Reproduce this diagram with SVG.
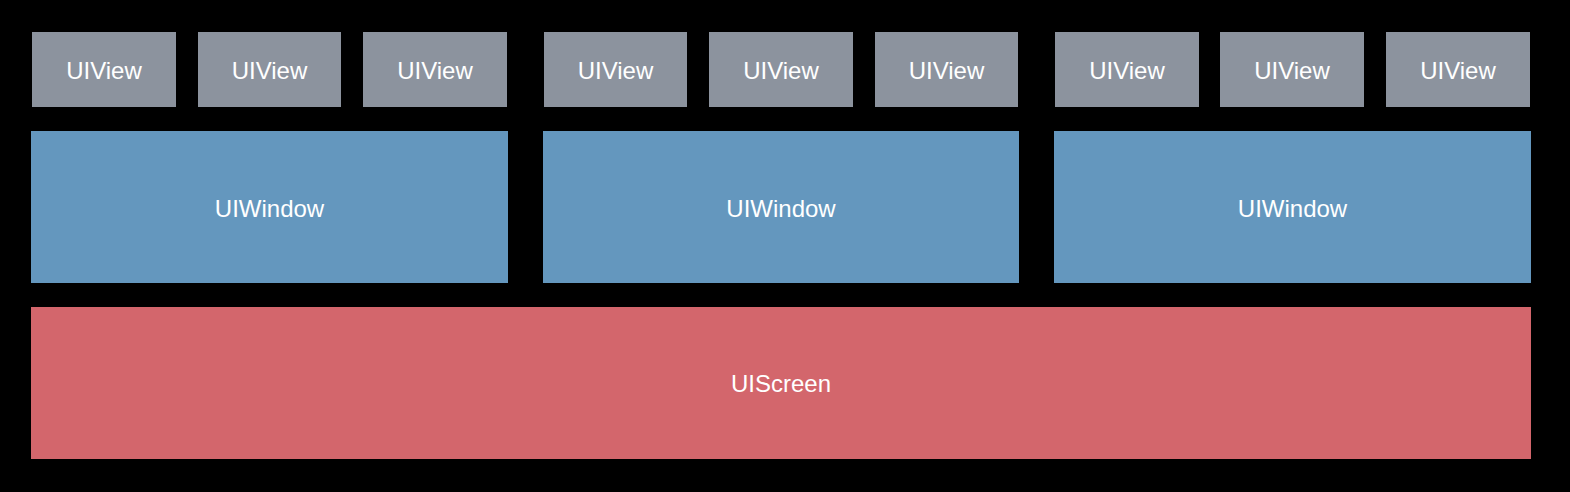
<svg xmlns="http://www.w3.org/2000/svg" width="1570" height="492" viewBox="0 0 1570 492">
<style>
.v{fill:#8c939e}.w{fill:#6497be}.s{fill:#d3666c}
text{font-family:"Helvetica","Liberation Sans",Arial,sans-serif;font-size:24px;fill:#fff;text-anchor:middle;dominant-baseline:central}
</style>
<rect width="1570" height="492" fill="#000"/>
<g id="screen"><rect class="s" x="31" y="307" width="1500" height="152"/><text x="781" y="383">UIScreen</text></g>
<g id="window1"><rect class="w" x="31" y="131" width="477" height="152"/><text x="269.5" y="208">UIWindow</text></g>
<g id="window2"><rect class="w" x="543" y="131" width="476" height="152"/><text x="781" y="208">UIWindow</text></g>
<g id="window3"><rect class="w" x="1054" y="131" width="477" height="152"/><text x="1292.5" y="208">UIWindow</text></g>
<g id="view1"><rect class="v" x="32" y="32" width="144" height="75"/><text x="104" y="70">UIView</text></g>
<g id="view2"><rect class="v" x="198" y="32" width="143" height="75"/><text x="269.5" y="70">UIView</text></g>
<g id="view3"><rect class="v" x="363" y="32" width="144" height="75"/><text x="435" y="70">UIView</text></g>
<g id="view4"><rect class="v" x="544" y="32" width="143" height="75"/><text x="615.5" y="70">UIView</text></g>
<g id="view5"><rect class="v" x="709" y="32" width="144" height="75"/><text x="781" y="70">UIView</text></g>
<g id="view6"><rect class="v" x="875" y="32" width="143" height="75"/><text x="946.5" y="70">UIView</text></g>
<g id="view7"><rect class="v" x="1055" y="32" width="144" height="75"/><text x="1127" y="70">UIView</text></g>
<g id="view8"><rect class="v" x="1220" y="32" width="144" height="75"/><text x="1292" y="70">UIView</text></g>
<g id="view9"><rect class="v" x="1386" y="32" width="144" height="75"/><text x="1458" y="70">UIView</text></g>
<g id="connectors"/>
</svg>
